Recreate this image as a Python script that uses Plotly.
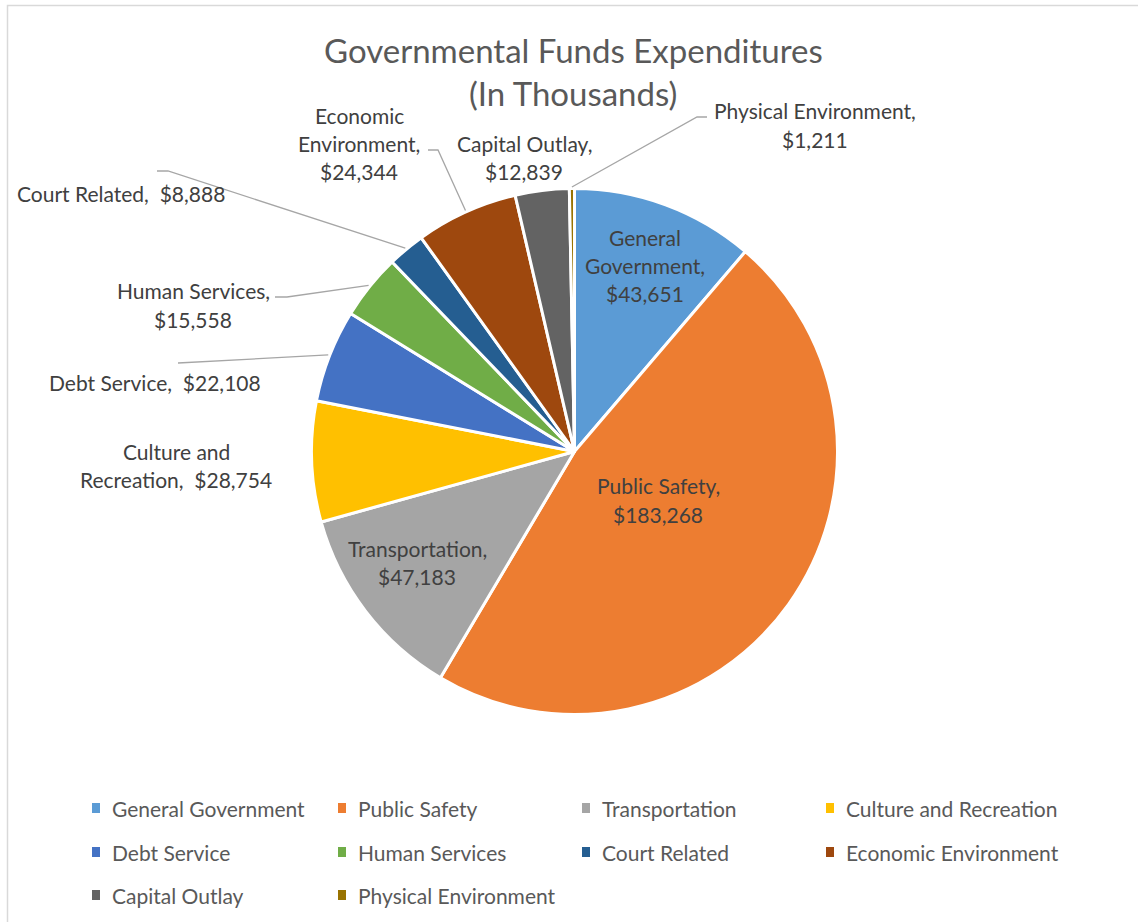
import math
import plotly.graph_objects as go

# Expenditure categories (thousands of dollars)
categories = [
    "General Government", "Public Safety", "Transportation", "Culture and Recreation",
    "Debt Service", "Human Services", "Court Related", "Economic Environment",
    "Capital Outlay", "Physical Environment",
]
expenditures = [43651, 183268, 47183, 28754, 22108, 15558, 8888, 24344, 12839, 1211]
colors = ["#5B9BD5", "#ED7D31", "#A5A5A5", "#FFC000", "#4472C4",
          "#70AD47", "#255E91", "#9E480E", "#636363", "#997300"]

W, H = 1138, 922
CX, CY, R = 574.5, 451.5, 263.0
FONT = "Lato, 'Open Sans', sans-serif"


def px(x):
    return x / W


def py(y):
    return 1 - y / H


fig = go.Figure()
fig.add_trace(go.Pie(
    labels=categories,
    values=expenditures,
    sort=False,
    direction="clockwise",
    rotation=0,
    marker=dict(colors=colors, line=dict(color="white", width=3)),
    textinfo="none",
    hoverinfo="label+value+percent",
    showlegend=False,
    domain=dict(x=[px(CX - R), px(CX + R)], y=[py(CY + R), py(CY - R)]),
))

# Mid-angle of every slice (degrees clockwise from 12 o'clock), from the data
total = sum(expenditures)
mid_angle = {}
acc = 0.0
for name, v in zip(categories, expenditures):
    mid_angle[name] = (acc + v / 2) / total * 360.0
    acc += v


def edge_point(name, extra=1.5):
    a = math.radians(mid_angle[name])
    return CX + (R + extra) * math.sin(a), CY - (R + extra) * math.cos(a)


# Label layout: words of the name per line, whether the value shares the last line,
# centre x and first-line y (pixels)
label_layout = {
    "General Government": ([1, 1], False, 645, 237),
    "Public Safety": ([2], False, 658, 486),
    "Transportation": ([1], False, 417, 548),
    "Culture and Recreation": ([2, 1], True, 176, 451),
    "Debt Service": ([2], True, 155, 383),
    "Human Services": ([2], False, 193, 291),
    "Court Related": ([2], True, 121, 193),
    "Economic Environment": ([1, 1], False, 359, 115),
    "Capital Outlay": ([2], False, 524, 143),
    "Physical Environment": ([2], False, 815, 111),
}
LINE_STEP = 28
label_font = dict(family=FONT, size=21, color="#404040")

for name, value in zip(categories, expenditures):
    split, same_line, lx, ly = label_layout[name]
    words = name.split(" ")
    lines, i = [], 0
    for n in split:
        lines.append(" ".join(words[i:i + n]))
        i += n
    lines[-1] += ","
    val = f"${value:,}"
    if same_line:
        lines[-1] += "  " + val
    else:
        lines.append(val)
    for k, line in enumerate(lines):
        fig.add_annotation(
            x=px(lx), y=py(ly + k * LINE_STEP), xref="paper", yref="paper",
            text=line, showarrow=False, xanchor="center", yanchor="middle",
            font=label_font,
        )

# Leader lines: label end points (pixels), ending on the slice edge
leader_points = {
    "Physical Environment": [(707, 117), (697, 117)],
    "Economic Environment": [(428, 150), (438, 150)],
    "Court Related": [(157, 171), (168, 171)],
    "Human Services": [(275, 297), (287, 297)],
    "Debt Service": [(178, 363)],
}
for name, pts in leader_points.items():
    ex, ey = edge_point(name)
    path_pts = pts + [(ex, ey)]
    d = "M " + " L ".join(f"{px(x)},{py(y)}" for x, y in path_pts)
    fig.add_shape(type="path", path=d, xref="paper", yref="paper",
                  line=dict(color="#A6A6A6", width=1.3))

# Legend grid (4 columns)
leg_cols = [96, 342, 586, 830]
leg_rows = [808, 852, 895]
for idx, (name, col) in enumerate(zip(categories, colors)):
    r, c = divmod(idx, 4)
    mx, my = leg_cols[c], leg_rows[r]
    fig.add_shape(type="rect", xref="paper", yref="paper",
                  x0=px(mx - 4), x1=px(mx + 4), y0=py(my + 5), y1=py(my - 5),
                  fillcolor=col, line=dict(width=0))
    fig.add_annotation(x=px(mx + 14), y=py(my), xref="paper", yref="paper",
                       text=name, showarrow=False, xanchor="left", yanchor="middle",
                       font=dict(family=FONT, size=21, color="#595959"))

# Chart area border
fig.add_shape(type="rect", xref="paper", yref="paper",
              x0=px(7.5), x1=px(W + 10), y0=py(H + 10), y1=py(5.5),
              line=dict(color="#D9D9D9", width=1.5), fillcolor="rgba(0,0,0,0)")

for text, ty in [("Governmental Funds Expenditures", 50), ("(In Thousands)", 93)]:
    fig.add_annotation(x=px(573), y=py(ty), xref="paper", yref="paper",
                       text=text, showarrow=False,
                       xanchor="center", yanchor="middle",
                       font=dict(family=FONT, size=33, color="#595959"))

fig.update_layout(
    width=W, height=H,
    margin=dict(l=0, r=0, t=0, b=0),
    paper_bgcolor="white", plot_bgcolor="white",
    showlegend=False,
)

fig.write_html("out.html")
